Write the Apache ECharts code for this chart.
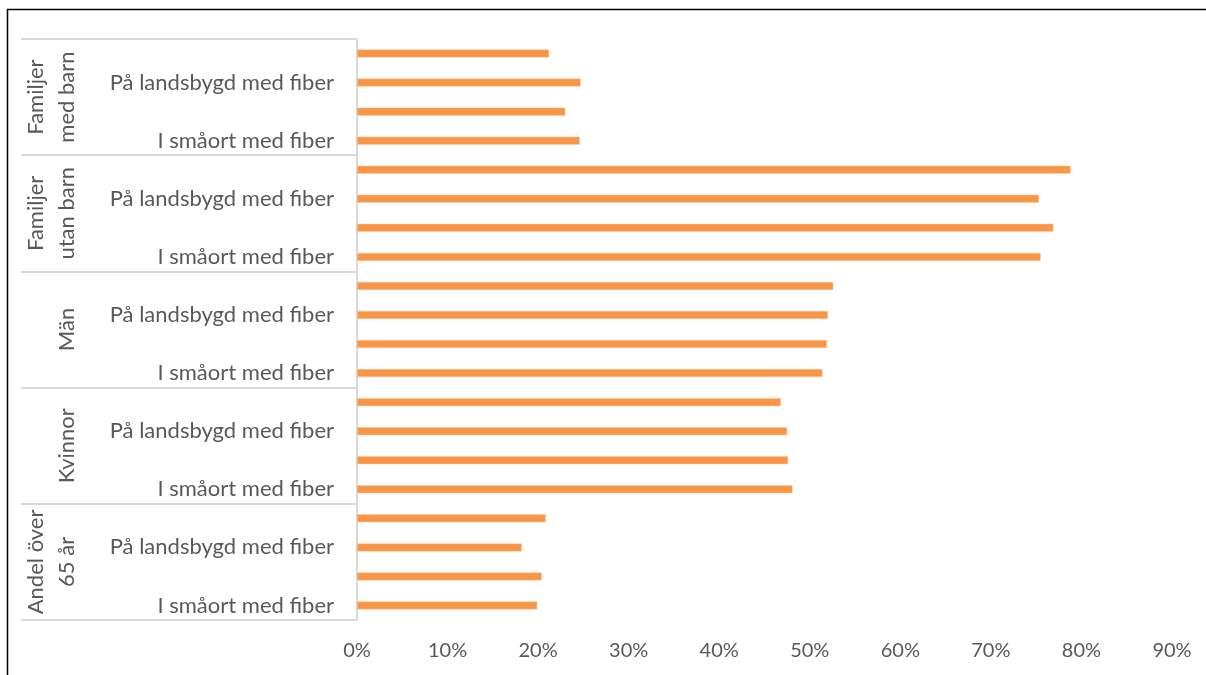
<!DOCTYPE html>
<html>
<head>
<meta charset="utf-8">
<script src="https://cdn.jsdelivr.net/npm/echarts@6/dist/echarts.min.js"></script>
<style>
html,body{margin:0;padding:0;background:#fff;}
#chart{width:1206px;height:675px;}
</style>
</head>
<body>
<div id="chart"></div>
<script>
// Groups (top to bottom)
const groups = ['Familjer\nmed barn', 'Familjer\nutan barn', 'Män', 'Kvinnor', 'Andel över\n65 år'];
// Sub-categories within each group (top to bottom); only every other label is shown
const subCategories = ['På landsbygd utan fiber', 'På landsbygd med fiber', 'I småort utan fiber', 'I småort med fiber'];
// Values per group (top to bottom), fractions
const familjerMedBarn = [0.212, 0.247, 0.230, 0.246];
const familjerUtanBarn = [0.788, 0.753, 0.769, 0.755];
const man = [0.526, 0.520, 0.519, 0.514];
const kvinnor = [0.468, 0.475, 0.476, 0.481];
const andelOver65 = [0.2085, 0.182, 0.204, 0.199];
const xTicks = { min: 0, max: 0.9, interval: 0.1 };

const groupValues = [familjerMedBarn, familjerUtanBarn, man, kvinnor, andelOver65];
const categories = [];
const values = [];
groupValues.forEach(function (arr) {
  arr.forEach(function (v, i) {
    categories.push(subCategories[i]);
    values.push(v);
  });
});

const font = 'Lato';
const textColor = '#595959';
const chart = echarts.init(document.getElementById('chart'), null, { renderer: 'canvas' });
chart.setOption({
  animation: false,
  backgroundColor: '#fff',
  textStyle: { fontFamily: font },
  grid: { left: 357, right: 34, top: 39, bottom: 55, containLabel: false },
  graphic: [{
    type: 'rect',
    shape: { x: 7.5, y: 9.5, width: 1400, height: 800 },
    style: { fill: 'none', stroke: '#000', lineWidth: 1.5 },
    silent: true
  }],
  xAxis: {
    type: 'value',
    min: xTicks.min, max: xTicks.max, interval: xTicks.interval,
    axisLine: { show: false },
    axisTick: { show: false },
    splitLine: { show: false },
    axisLabel: {
      margin: 21,
      color: textColor,
      fontSize: 20,
      fontFamily: font,
      formatter: function (v) { return Math.round(v * 100) + '%'; }
    }
  },
  yAxis: [{
    type: 'category',
    data: categories,
    inverse: true,
    axisLine: { show: true, lineStyle: { color: '#D9D9D9', width: 2 } },
    axisTick: { show: false },
    axisLabel: {
      interval: function (index) { return index % 2 === 1; },
      margin: 23,
      color: textColor,
      fontSize: 22,
      fontFamily: font
    }
  }, {
    type: 'category',
    data: groups,
    inverse: true,
    position: 'left',
    axisLine: { show: false },
    axisTick: { show: true, interval: 0, length: 336, lineStyle: { color: '#D9D9D9', width: 2 } },
    axisLabel: {
      interval: 0,
      rotate: 90,
      margin: 275,
      color: textColor,
      fontSize: 22,
      lineHeight: 31,
      fontFamily: font
    }
  }],
  series: [{
    type: 'bar',
    yAxisIndex: 0,
    data: values,
    barWidth: 8,
    itemStyle: { color: '#F79646', borderColor: '#FAC8A0', borderWidth: 0.5 }
  }]
});
</script>
</body>
</html>
